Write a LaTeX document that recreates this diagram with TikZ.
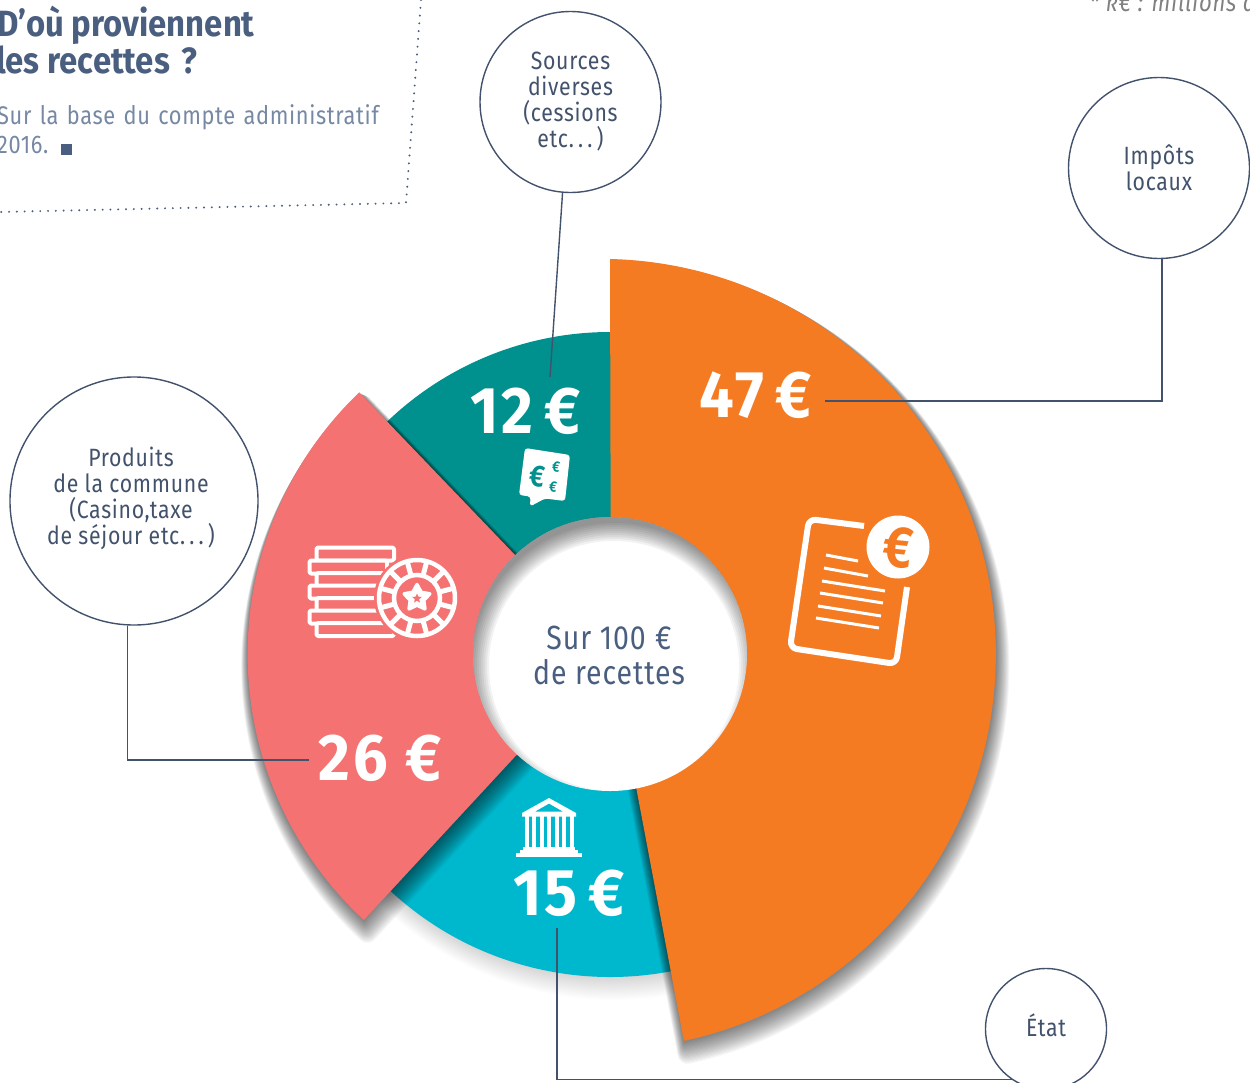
\documentclass[tikz,border=0pt]{standalone}
\usepackage{fontspec}
\usetikzlibrary{shapes.geometric}
\setmainfont{Fira Sans}[FakeStretch=0.86]
\newfontfamily\titlef{Fira Sans}[FakeStretch=0.9,BoldFont={Fira Sans Bold}]
\newfontfamily\spacedb{Fira Sans}[FakeStretch=0.93,LetterSpace=5,BoldFont={Fira Sans Bold}]
\newfontfamily\lightf{Fira Sans}[FakeStretch=0.85,LetterSpace=2.8]
\newfontfamily\bodyf{Fira Sans}[FakeStretch=0.855,LetterSpace=2.5,WordSpace=1.3]
\definecolor{orangeC}{HTML}{F57B23}
\definecolor{tealC}{HTML}{00918F}
\definecolor{cyanC}{HTML}{00B8CE}
\definecolor{pinkC}{HTML}{F47272}
\definecolor{navyC}{HTML}{4A5F80}
\definecolor{lineC}{HTML}{42526C}
\definecolor{greyB}{HTML}{7688A3}
\newcommand{\softlayers}[2]{%
  \foreach \t in {1,...,20}{\begin{scope}[shift={(.18*\t,.65*\t)},transparency group,opacity=#2]\path[shadowlayer,line width=\t*1.0pt,#1];\end{scope}}}
\tikzset{
  orangep/.style={insert path={(610,259) arc[start angle=-88.6,end angle=77.8,radius=395.5] -- (611,654) -- cycle}},
  pinkp/.style={insert path={(363.8,920) arc[start angle=132.8,end angle=226.2,radius=362.5] -- (610,654) -- cycle}},
  cyanp/.style={insert path={(610,654) -- ++(60:323) arc[start angle=60,end angle=140,radius=323] -- cycle}},
  tealp/.style={insert path={(610,654) -- ++(215:322) arc[start angle=215,end angle=275,radius=322] -- cycle}},
  bubble/.style={circle,draw=lineC,line width=1.4pt,inner sep=0pt,align=center,text=lineC,font=\lightf\fontsize{25}{26}\selectfont},
  conn/.style={draw=lineC,line width=1.4pt},
  amount/.style={text=white,inner sep=0pt,font=\spacedb\bfseries\fontsize{66}{66}\selectfont},
  icon/.style={draw=white,line cap=butt,line join=round},
  shadowlayer/.style={fill=black,draw=black,line join=round}
}
\begin{document}
\begin{tikzpicture}[x=1pt,y=-1pt]
\useasboundingbox (0,0) rectangle (1250,1082);
% sectors
\fill[tealC,tealp];
\softlayers{cyanp}{.008}
\fill[cyanC,cyanp];
\softlayers{pinkp}{.032}
\fill[pinkC,pinkp];
\begin{scope}
  \clip (612,250) -- (1250,250) -- (1250,1082) -- (560,1082) -- (560,700) -- (612,700) -- cycle;
  \softlayers{orangep}{.032}
\end{scope}
\fill[orangeC,orangep];
% hole with inner shadow
\fill[white] (610,654) circle[radius=137];
\begin{scope}
  \clip (610,654) circle[radius=137];
  \foreach \r in {143,141,...,125}{\fill[black,opacity=.05,even odd rule] (400,400) rectangle (820,900) (614,666) circle[radius=\r];}
\end{scope}
\node[circle,minimum size=274pt,inner sep=0pt,align=center,text=navyC,font=\lightf\fontsize{33.5}{35}\selectfont] (hole) at (609,655) {Sur 100\;€\\de recettes};
% header
\node[anchor=base west,inner sep=0pt,text=navyC,font=\titlef\bfseries\fontsize{36.5}{36}\selectfont] (title1) at (-3,36) {D’où proviennent};
\node[anchor=base west,inner sep=0pt,text=navyC,font=\titlef\bfseries\fontsize{36.5}{36}\selectfont] (title2) at (-4,73) {les recettes\hspace{4pt} ?};
\node[anchor=base west,inner sep=0pt,text=greyB,font=\bodyf\fontsize{25.5}{26}\selectfont] (body1) at (-3,124) {Sur la base du compte administratif};
\node[anchor=base west,inner sep=0pt,text=greyB,font=\bodyf\fontsize{25.5}{26}\selectfont] (body2) at (-3,153) {2016.};
\fill[navyC] (61,144) rectangle (72,155);
\draw[navyC,line width=2.2pt,line cap=round,dash pattern=on 0pt off 7.8pt] (421,0) -- (406,203) -- (0,212);
\node[anchor=base east,inner sep=0pt,text=gray,font=\lightf\itshape\fontsize{26}{26}\selectfont] (note) at (1256,11) {* k€ : millions d};
% circles
\node[bubble,minimum size=181pt] (src) at (570.5,102) {Sources\\diverses\\(cessions\\etc.\,.\,.\,)};
\node[bubble,minimum size=181pt] (imp) at (1159,168) {Impôts\\locaux};
\node[bubble,minimum size=248pt] (prod) at (134,501) {\hspace*{-6pt}Produits\\\hspace*{-6pt}de la commune\\\hspace*{-6pt}(Casino,taxe\\\hspace*{-6pt}de séjour etc.\,.\,.\,)\rule[-11pt]{0pt}{1pt}};
\node[bubble,minimum size=121pt] (etat) at (1046,1029) {État\rule[-7pt]{0pt}{1pt}};
% amounts
\node[amount,anchor=base west] (a47) at (699,417) {47\,€};
\node[amount,anchor=base west] (a12) at (470,433) {12\,€};
\node[amount,anchor=base west] (a26) at (318,780) {26 €};
\node[amount,anchor=base west] (a15) at (513,915) {15\,€};
% connectors
\coordinate (c47) at (825,401);
\coordinate (c12) at (550,377);
\coordinate (c26) at (309,760);
\coordinate (c15) at (557,928);
\draw[conn] (src.-95) -- (c12);
\draw[conn] (imp.-88) |- (c47);
\draw[conn] (prod.-93) |- (c26);
\draw[conn] (c15) |- (etat.-124);
% document icon
\draw[icon,line width=6pt,rounded corners=7pt] (864,526) -- (809,519) -- (790,648) -- (896,664) -- (907,587);
\foreach \a/\b/\c/\d in {826/555/858/561,824/568/868/576,822/581/885/591,820/593/883/603,818/606/881/616,816/618/879/628}{
  \draw[icon,line width=3pt] (\a,\b) -- (\c,\d);}
\fill[white] (898,547) circle[radius=31.5];
\node[text=orangeC,inner sep=0pt,font=\bfseries\fontsize{58}{58}\selectfont,rotate=-6] (eurodoc) at (898,548) {€};
% chips icon
\foreach \y/\x in {546/315,559/308,571.5/315,584/308,596.5/315,609/308,621.5/315}{
  \draw[icon,line width=4pt,rounded corners=1.5pt,fill=pinkC] (\x+1.5,\y+1.5) rectangle (\x+79,\y+14.5);}
\fill[pinkC] (417,598) circle[radius=43];
\draw[white,line width=4.5pt] (417,598) circle[radius=38];
\draw[white,line width=4.5pt] (417,598) circle[radius=23];
\foreach \t in {15,45,...,345}{\draw[white,line width=5pt] ([shift={(417,598)}]\t:23) -- ([shift={(417,598)}]\t:38);}
\node[star,star points=5,star point ratio=1.9,fill=white,draw=white,line width=3.5pt,line join=round,minimum size=27pt,inner sep=0pt] (chipstar) at (417,598) {};
\node[star,star points=5,star point ratio=2.2,fill=pinkC,minimum size=10pt,inner sep=0pt] (chipcore) at (417,598.5) {};
% bubble icon
\fill[white,rounded corners=3pt] (525,448) -- (570,455) -- (565,501) -- (545,498.5) -- (530,506.5) -- (530.5,496.5) -- (519,495) -- cycle;
\node[text=tealC,inner sep=0pt,font=\bfseries\fontsize{30}{30}\selectfont,rotate=-7] (eurobig) at (537,476) {€};
\node[text=tealC,inner sep=0pt,font=\bfseries\fontsize{15}{15}\selectfont,rotate=-7] (eurosm1) at (556,467) {€};
\node[text=tealC,inner sep=0pt,font=\bfseries\fontsize{15}{15}\selectfont,rotate=-7] (eurosm2) at (553,487) {€};
% temple icon
\fill[white,even odd rule] (549,798) -- (576,813) -- (576,816.5) -- (522,816.5) -- (522,813) -- cycle (549,803.5) -- (535,811.5) -- (563,811.5) -- cycle;
\foreach \x in {526.7,534,541.7,549,556.7,564,571.7}{\fill[white] (\x-2,816) rectangle (\x+2,848);}
\fill[white] (523,847) rectangle (575,851);
\fill[white] (520,850) rectangle (578,854);
\fill[white] (516,853) rectangle (582,857);
\end{tikzpicture}
\end{document}
